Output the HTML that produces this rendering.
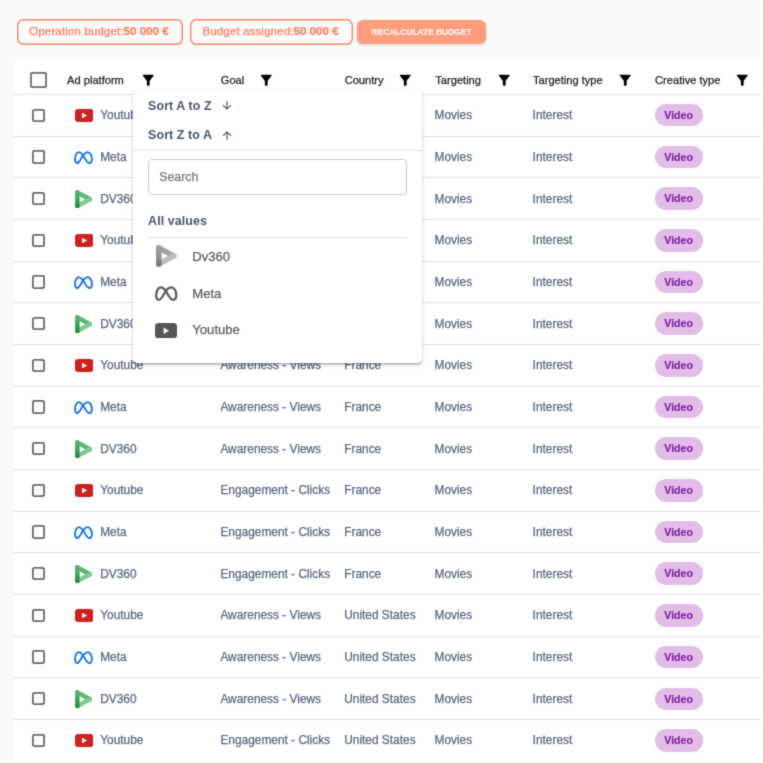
<!DOCTYPE html>
<html><head><meta charset="utf-8"><title>Budget table</title>
<style>
*{box-sizing:border-box;margin:0;padding:0}
html,body{width:763px;height:763px;overflow:hidden}
body{background:#fafafa;font-family:"Liberation Sans",Arial,sans-serif;position:relative}
.pill{position:absolute;top:19px;height:26.4px;box-shadow:inset 0 0 0 1.4px #ff8260;border-radius:6.5px;background:#fbfbfb;color:#ff7f5c;font-size:11.8px;line-height:24.4px;white-space:nowrap}
.pill b{font-weight:bold;font-size:11.6px}
.btn{position:absolute;left:357px;top:20px;width:129px;height:23.5px;border-radius:6px;background:#ff9c7e;color:#fff0ea;font-size:8.4px;font-weight:bold;-webkit-text-stroke:0.2px #fff0ea;line-height:25.4px;text-align:center;box-shadow:0 1px 3px rgba(0,0,0,.18)}
.tbl{position:absolute;left:13px;top:58px;width:747px;height:720px;background:#fff;border-radius:2.5px 2.5px 0 0}
.hd{position:absolute;font-size:11.1px;color:#222;white-space:nowrap}
.fn{position:absolute}
.line{position:absolute;left:13px;width:747px;height:1px;background:#e3e3e3}
.cb{position:absolute;box-shadow:inset 0 0 0 1.8px #6a6a6a;border-radius:2.2px}
.c{position:absolute;font-size:11.9px;color:#5a6883;white-space:nowrap}
.ic{position:absolute}
.chip{position:absolute;width:48px;height:22.5px;border-radius:11.25px;background:#e2bde8;color:#8222a4;font-size:10.6px;font-weight:bold;-webkit-text-stroke:0.15px #8222a4;text-align:center;line-height:22.5px}
.dd{position:absolute;left:132.5px;top:91px;width:289px;height:272px;background:#fff;border-radius:4.5px;box-shadow:0 1.6px 1.4px rgba(0,0,0,.2),0 0 1.5px rgba(0,0,0,.16),0 3px 7px rgba(0,0,0,.07)}
.dd .t{position:absolute;font-size:12.4px;font-weight:bold;color:#47566f;white-space:nowrap;letter-spacing:0.1px}
.dd .ar{position:absolute;color:#48566f}
.dd .sep{position:absolute;height:1px;background:#e0e0e0}
.dd .inp{position:absolute;left:15.8px;top:68.1px;width:259px;height:36.4px;border:1px solid #c9c9c9;border-radius:4px}
.dd .ph{position:absolute;font-size:12.3px;color:#777;white-space:nowrap}
.dd .it{position:absolute;font-size:13.1px;color:#5f5f5f;white-space:nowrap}
.c,.hd,.pill,.dd .it,.dd .ph{-webkit-text-stroke:0.25px currentColor}
#w{position:absolute;left:0;top:0;width:763px;height:763px;filter:url(#bl)}
</style></head><body>
<svg width="0" height="0" style="position:absolute"><filter id="bl" x="0" y="0" width="763" height="763" filterUnits="userSpaceOnUse" color-interpolation-filters="sRGB"><feConvolveMatrix order="3" kernelMatrix="0.03 0.09 0.03 0.09 0.52 0.09 0.03 0.09 0.03" edgeMode="duplicate"/></filter></svg>
<div id="w">
<div class="pill" style="left:17px;width:165.5px;padding-left:12.1px">Operation budget:<b>50 000 €</b></div>
<div class="pill" style="left:190.3px;width:162.5px;padding-left:12px">Budget assigned:<b>50 000 €</b></div>
<div class="btn">RECALCULATE BUDGET</div>
<div class="tbl"></div>
<div class="cb" style="left:30.3px;top:71.7px;width:16.3px;height:16.3px"></div>
<div class="hd" style="left:67.10px;top:73.5px">Ad platform</div>
<svg class="fn" style="left:139.52px;top:71.75px" width="16.5" height="16.5" viewBox="0 0 24 24"><path d="M4.25 5.61C6.27 8.2 10 13 10 13v6c0 .55.45 1 1 1h2c.55 0 1-.45 1-1v-6s3.72-4.8 5.74-7.39c.51-.66.04-1.61-.79-1.61H5.04c-.83 0-1.3.95-.79 1.61z" fill="#000"/></svg>
<div class="hd" style="left:220.80px;top:73.5px">Goal</div>
<svg class="fn" style="left:257.62px;top:71.75px" width="16.5" height="16.5" viewBox="0 0 24 24"><path d="M4.25 5.61C6.27 8.2 10 13 10 13v6c0 .55.45 1 1 1h2c.55 0 1-.45 1-1v-6s3.72-4.8 5.74-7.39c.51-.66.04-1.61-.79-1.61H5.04c-.83 0-1.3.95-.79 1.61z" fill="#000"/></svg>
<div class="hd" style="left:344.70px;top:73.5px">Country</div>
<svg class="fn" style="left:397.22px;top:71.75px" width="16.5" height="16.5" viewBox="0 0 24 24"><path d="M4.25 5.61C6.27 8.2 10 13 10 13v6c0 .55.45 1 1 1h2c.55 0 1-.45 1-1v-6s3.72-4.8 5.74-7.39c.51-.66.04-1.61-.79-1.61H5.04c-.83 0-1.3.95-.79 1.61z" fill="#000"/></svg>
<div class="hd" style="left:435.30px;top:73.5px">Targeting</div>
<svg class="fn" style="left:496.02px;top:71.75px" width="16.5" height="16.5" viewBox="0 0 24 24"><path d="M4.25 5.61C6.27 8.2 10 13 10 13v6c0 .55.45 1 1 1h2c.55 0 1-.45 1-1v-6s3.72-4.8 5.74-7.39c.51-.66.04-1.61-.79-1.61H5.04c-.83 0-1.3.95-.79 1.61z" fill="#000"/></svg>
<div class="hd" style="left:533.00px;top:73.5px">Targeting type</div>
<svg class="fn" style="left:617.12px;top:71.75px" width="16.5" height="16.5" viewBox="0 0 24 24"><path d="M4.25 5.61C6.27 8.2 10 13 10 13v6c0 .55.45 1 1 1h2c.55 0 1-.45 1-1v-6s3.72-4.8 5.74-7.39c.51-.66.04-1.61-.79-1.61H5.04c-.83 0-1.3.95-.79 1.61z" fill="#000"/></svg>
<div class="hd" style="left:655.10px;top:73.5px">Creative type</div>
<svg class="fn" style="left:733.72px;top:71.75px" width="16.5" height="16.5" viewBox="0 0 24 24"><path d="M4.25 5.61C6.27 8.2 10 13 10 13v6c0 .55.45 1 1 1h2c.55 0 1-.45 1-1v-6s3.72-4.8 5.74-7.39c.51-.66.04-1.61-.79-1.61H5.04c-.83 0-1.3.95-.79 1.61z" fill="#000"/></svg>
<div class="line" style="top:93.90px"></div>
<div class="line" style="top:135.58px"></div>
<div class="cb" style="left:31.5px;top:108.64px;width:13.5px;height:13.3px"></div>
<svg class="ic" style="left:74.7px;top:108.74px" width="18.4" height="13" viewBox="0 0 18.4 13"><rect x="0" y="0" width="18.4" height="13" rx="3.2" fill="#d21f1f"/><path d="M7 3.8 L12.2 6.5 L7 9.2 Z" fill="#fff"/></svg>
<div class="c" style="left:100.2px;top:108.14px">Youtube</div>
<div class="c" style="left:220.4px;top:108.14px">Awareness - Views</div>
<div class="c" style="left:344.2px;top:108.14px">France</div>
<div class="c" style="left:434.5px;top:108.14px">Movies</div>
<div class="c" style="left:532.6px;top:108.14px">Interest</div>
<div class="chip" style="left:654.6px;top:103.99px">Video</div>
<div class="line" style="top:177.26px"></div>
<div class="cb" style="left:31.5px;top:150.32px;width:13.5px;height:13.3px"></div>
<svg class="ic" style="left:74.3px;top:150.62px" width="19" height="13" viewBox="0 0 19 13"><path d="M4.9 1.2 C6.6 1.2 7.8 2.5 9.1 4.4 C11.2 7.6 12.8 12 15.2 12 C16.9 12 17.9 10.3 17.9 7.9 C17.9 4.5 16.2 1.2 13.6 1.2 C11.8 1.2 10.4 2.6 9.1 4.4 C6.8 7.7 5.4 12 3.4 12 C2 12 1 10.4 1 8.1 C1 4.6 2.6 1.2 4.9 1.2 Z" fill="none" stroke="#0b6ff2" stroke-width="1.8"/></svg>
<div class="c" style="left:100.2px;top:149.82px">Meta</div>
<div class="c" style="left:220.4px;top:149.82px">Awareness - Views</div>
<div class="c" style="left:344.2px;top:149.82px">France</div>
<div class="c" style="left:434.5px;top:149.82px">Movies</div>
<div class="c" style="left:532.6px;top:149.82px">Interest</div>
<div class="chip" style="left:654.6px;top:145.67px">Video</div>
<div class="line" style="top:218.94px"></div>
<div class="cb" style="left:31.5px;top:192.00px;width:13.5px;height:13.3px"></div>
<svg class="ic" style="left:74.9px;top:189.70px" width="17.4" height="18.4" viewBox="0 0 20 21"><defs><linearGradient id="gG" gradientUnits="userSpaceOnUse" x1="0" y1="0" x2="0" y2="21"><stop offset="0" stop-color="#5bb974"/><stop offset="0.45" stop-color="#43a85e"/><stop offset="1" stop-color="#178a3a"/></linearGradient></defs><path d="M2.7 2.7 L17.3 10.5" stroke="#5bb974" stroke-width="5.3" stroke-linecap="round"/><path d="M17.3 10.5 L2.7 18.3" stroke="#81c995" stroke-width="5.3" stroke-linecap="round"/><path d="M2.7 2.7 L2.7 18.3" stroke="url(#gG)" stroke-width="5.3" stroke-linecap="round"/></svg>
<div class="c" style="left:100.2px;top:191.50px">DV360</div>
<div class="c" style="left:220.4px;top:191.50px">Awareness - Views</div>
<div class="c" style="left:344.2px;top:191.50px">France</div>
<div class="c" style="left:434.5px;top:191.50px">Movies</div>
<div class="c" style="left:532.6px;top:191.50px">Interest</div>
<div class="chip" style="left:654.6px;top:187.35px">Video</div>
<div class="line" style="top:260.62px"></div>
<div class="cb" style="left:31.5px;top:233.68px;width:13.5px;height:13.3px"></div>
<svg class="ic" style="left:74.7px;top:233.78px" width="18.4" height="13" viewBox="0 0 18.4 13"><rect x="0" y="0" width="18.4" height="13" rx="3.2" fill="#d21f1f"/><path d="M7 3.8 L12.2 6.5 L7 9.2 Z" fill="#fff"/></svg>
<div class="c" style="left:100.2px;top:233.18px">Youtube</div>
<div class="c" style="left:220.4px;top:233.18px">Engagement - Clicks</div>
<div class="c" style="left:344.2px;top:233.18px">France</div>
<div class="c" style="left:434.5px;top:233.18px">Movies</div>
<div class="c" style="left:532.6px;top:233.18px">Interest</div>
<div class="chip" style="left:654.6px;top:229.03px">Video</div>
<div class="line" style="top:302.30px"></div>
<div class="cb" style="left:31.5px;top:275.36px;width:13.5px;height:13.3px"></div>
<svg class="ic" style="left:74.3px;top:275.66px" width="19" height="13" viewBox="0 0 19 13"><path d="M4.9 1.2 C6.6 1.2 7.8 2.5 9.1 4.4 C11.2 7.6 12.8 12 15.2 12 C16.9 12 17.9 10.3 17.9 7.9 C17.9 4.5 16.2 1.2 13.6 1.2 C11.8 1.2 10.4 2.6 9.1 4.4 C6.8 7.7 5.4 12 3.4 12 C2 12 1 10.4 1 8.1 C1 4.6 2.6 1.2 4.9 1.2 Z" fill="none" stroke="#0b6ff2" stroke-width="1.8"/></svg>
<div class="c" style="left:100.2px;top:274.86px">Meta</div>
<div class="c" style="left:220.4px;top:274.86px">Engagement - Clicks</div>
<div class="c" style="left:344.2px;top:274.86px">France</div>
<div class="c" style="left:434.5px;top:274.86px">Movies</div>
<div class="c" style="left:532.6px;top:274.86px">Interest</div>
<div class="chip" style="left:654.6px;top:270.71px">Video</div>
<div class="line" style="top:343.98px"></div>
<div class="cb" style="left:31.5px;top:317.04px;width:13.5px;height:13.3px"></div>
<svg class="ic" style="left:74.9px;top:314.74px" width="17.4" height="18.4" viewBox="0 0 20 21"><defs><linearGradient id="gG" gradientUnits="userSpaceOnUse" x1="0" y1="0" x2="0" y2="21"><stop offset="0" stop-color="#5bb974"/><stop offset="0.45" stop-color="#43a85e"/><stop offset="1" stop-color="#178a3a"/></linearGradient></defs><path d="M2.7 2.7 L17.3 10.5" stroke="#5bb974" stroke-width="5.3" stroke-linecap="round"/><path d="M17.3 10.5 L2.7 18.3" stroke="#81c995" stroke-width="5.3" stroke-linecap="round"/><path d="M2.7 2.7 L2.7 18.3" stroke="url(#gG)" stroke-width="5.3" stroke-linecap="round"/></svg>
<div class="c" style="left:100.2px;top:316.54px">DV360</div>
<div class="c" style="left:220.4px;top:316.54px">Engagement - Clicks</div>
<div class="c" style="left:344.2px;top:316.54px">France</div>
<div class="c" style="left:434.5px;top:316.54px">Movies</div>
<div class="c" style="left:532.6px;top:316.54px">Interest</div>
<div class="chip" style="left:654.6px;top:312.39px">Video</div>
<div class="line" style="top:385.66px"></div>
<div class="cb" style="left:31.5px;top:358.72px;width:13.5px;height:13.3px"></div>
<svg class="ic" style="left:74.7px;top:358.82px" width="18.4" height="13" viewBox="0 0 18.4 13"><rect x="0" y="0" width="18.4" height="13" rx="3.2" fill="#d21f1f"/><path d="M7 3.8 L12.2 6.5 L7 9.2 Z" fill="#fff"/></svg>
<div class="c" style="left:100.2px;top:358.22px">Youtube</div>
<div class="c" style="left:220.4px;top:358.22px">Awareness - Views</div>
<div class="c" style="left:344.2px;top:358.22px">France</div>
<div class="c" style="left:434.5px;top:358.22px">Movies</div>
<div class="c" style="left:532.6px;top:358.22px">Interest</div>
<div class="chip" style="left:654.6px;top:354.07px">Video</div>
<div class="line" style="top:427.34px"></div>
<div class="cb" style="left:31.5px;top:400.40px;width:13.5px;height:13.3px"></div>
<svg class="ic" style="left:74.3px;top:400.70px" width="19" height="13" viewBox="0 0 19 13"><path d="M4.9 1.2 C6.6 1.2 7.8 2.5 9.1 4.4 C11.2 7.6 12.8 12 15.2 12 C16.9 12 17.9 10.3 17.9 7.9 C17.9 4.5 16.2 1.2 13.6 1.2 C11.8 1.2 10.4 2.6 9.1 4.4 C6.8 7.7 5.4 12 3.4 12 C2 12 1 10.4 1 8.1 C1 4.6 2.6 1.2 4.9 1.2 Z" fill="none" stroke="#0b6ff2" stroke-width="1.8"/></svg>
<div class="c" style="left:100.2px;top:399.90px">Meta</div>
<div class="c" style="left:220.4px;top:399.90px">Awareness - Views</div>
<div class="c" style="left:344.2px;top:399.90px">France</div>
<div class="c" style="left:434.5px;top:399.90px">Movies</div>
<div class="c" style="left:532.6px;top:399.90px">Interest</div>
<div class="chip" style="left:654.6px;top:395.75px">Video</div>
<div class="line" style="top:469.02px"></div>
<div class="cb" style="left:31.5px;top:442.08px;width:13.5px;height:13.3px"></div>
<svg class="ic" style="left:74.9px;top:439.78px" width="17.4" height="18.4" viewBox="0 0 20 21"><defs><linearGradient id="gG" gradientUnits="userSpaceOnUse" x1="0" y1="0" x2="0" y2="21"><stop offset="0" stop-color="#5bb974"/><stop offset="0.45" stop-color="#43a85e"/><stop offset="1" stop-color="#178a3a"/></linearGradient></defs><path d="M2.7 2.7 L17.3 10.5" stroke="#5bb974" stroke-width="5.3" stroke-linecap="round"/><path d="M17.3 10.5 L2.7 18.3" stroke="#81c995" stroke-width="5.3" stroke-linecap="round"/><path d="M2.7 2.7 L2.7 18.3" stroke="url(#gG)" stroke-width="5.3" stroke-linecap="round"/></svg>
<div class="c" style="left:100.2px;top:441.58px">DV360</div>
<div class="c" style="left:220.4px;top:441.58px">Awareness - Views</div>
<div class="c" style="left:344.2px;top:441.58px">France</div>
<div class="c" style="left:434.5px;top:441.58px">Movies</div>
<div class="c" style="left:532.6px;top:441.58px">Interest</div>
<div class="chip" style="left:654.6px;top:437.43px">Video</div>
<div class="line" style="top:510.70px"></div>
<div class="cb" style="left:31.5px;top:483.76px;width:13.5px;height:13.3px"></div>
<svg class="ic" style="left:74.7px;top:483.86px" width="18.4" height="13" viewBox="0 0 18.4 13"><rect x="0" y="0" width="18.4" height="13" rx="3.2" fill="#d21f1f"/><path d="M7 3.8 L12.2 6.5 L7 9.2 Z" fill="#fff"/></svg>
<div class="c" style="left:100.2px;top:483.26px">Youtube</div>
<div class="c" style="left:220.4px;top:483.26px">Engagement - Clicks</div>
<div class="c" style="left:344.2px;top:483.26px">France</div>
<div class="c" style="left:434.5px;top:483.26px">Movies</div>
<div class="c" style="left:532.6px;top:483.26px">Interest</div>
<div class="chip" style="left:654.6px;top:479.11px">Video</div>
<div class="line" style="top:552.38px"></div>
<div class="cb" style="left:31.5px;top:525.44px;width:13.5px;height:13.3px"></div>
<svg class="ic" style="left:74.3px;top:525.74px" width="19" height="13" viewBox="0 0 19 13"><path d="M4.9 1.2 C6.6 1.2 7.8 2.5 9.1 4.4 C11.2 7.6 12.8 12 15.2 12 C16.9 12 17.9 10.3 17.9 7.9 C17.9 4.5 16.2 1.2 13.6 1.2 C11.8 1.2 10.4 2.6 9.1 4.4 C6.8 7.7 5.4 12 3.4 12 C2 12 1 10.4 1 8.1 C1 4.6 2.6 1.2 4.9 1.2 Z" fill="none" stroke="#0b6ff2" stroke-width="1.8"/></svg>
<div class="c" style="left:100.2px;top:524.94px">Meta</div>
<div class="c" style="left:220.4px;top:524.94px">Engagement - Clicks</div>
<div class="c" style="left:344.2px;top:524.94px">France</div>
<div class="c" style="left:434.5px;top:524.94px">Movies</div>
<div class="c" style="left:532.6px;top:524.94px">Interest</div>
<div class="chip" style="left:654.6px;top:520.79px">Video</div>
<div class="line" style="top:594.06px"></div>
<div class="cb" style="left:31.5px;top:567.12px;width:13.5px;height:13.3px"></div>
<svg class="ic" style="left:74.9px;top:564.82px" width="17.4" height="18.4" viewBox="0 0 20 21"><defs><linearGradient id="gG" gradientUnits="userSpaceOnUse" x1="0" y1="0" x2="0" y2="21"><stop offset="0" stop-color="#5bb974"/><stop offset="0.45" stop-color="#43a85e"/><stop offset="1" stop-color="#178a3a"/></linearGradient></defs><path d="M2.7 2.7 L17.3 10.5" stroke="#5bb974" stroke-width="5.3" stroke-linecap="round"/><path d="M17.3 10.5 L2.7 18.3" stroke="#81c995" stroke-width="5.3" stroke-linecap="round"/><path d="M2.7 2.7 L2.7 18.3" stroke="url(#gG)" stroke-width="5.3" stroke-linecap="round"/></svg>
<div class="c" style="left:100.2px;top:566.62px">DV360</div>
<div class="c" style="left:220.4px;top:566.62px">Engagement - Clicks</div>
<div class="c" style="left:344.2px;top:566.62px">France</div>
<div class="c" style="left:434.5px;top:566.62px">Movies</div>
<div class="c" style="left:532.6px;top:566.62px">Interest</div>
<div class="chip" style="left:654.6px;top:562.47px">Video</div>
<div class="line" style="top:635.74px"></div>
<div class="cb" style="left:31.5px;top:608.80px;width:13.5px;height:13.3px"></div>
<svg class="ic" style="left:74.7px;top:608.90px" width="18.4" height="13" viewBox="0 0 18.4 13"><rect x="0" y="0" width="18.4" height="13" rx="3.2" fill="#d21f1f"/><path d="M7 3.8 L12.2 6.5 L7 9.2 Z" fill="#fff"/></svg>
<div class="c" style="left:100.2px;top:608.30px">Youtube</div>
<div class="c" style="left:220.4px;top:608.30px">Awareness - Views</div>
<div class="c" style="left:344.2px;top:608.30px">United States</div>
<div class="c" style="left:434.5px;top:608.30px">Movies</div>
<div class="c" style="left:532.6px;top:608.30px">Interest</div>
<div class="chip" style="left:654.6px;top:604.15px">Video</div>
<div class="line" style="top:677.42px"></div>
<div class="cb" style="left:31.5px;top:650.48px;width:13.5px;height:13.3px"></div>
<svg class="ic" style="left:74.3px;top:650.78px" width="19" height="13" viewBox="0 0 19 13"><path d="M4.9 1.2 C6.6 1.2 7.8 2.5 9.1 4.4 C11.2 7.6 12.8 12 15.2 12 C16.9 12 17.9 10.3 17.9 7.9 C17.9 4.5 16.2 1.2 13.6 1.2 C11.8 1.2 10.4 2.6 9.1 4.4 C6.8 7.7 5.4 12 3.4 12 C2 12 1 10.4 1 8.1 C1 4.6 2.6 1.2 4.9 1.2 Z" fill="none" stroke="#0b6ff2" stroke-width="1.8"/></svg>
<div class="c" style="left:100.2px;top:649.98px">Meta</div>
<div class="c" style="left:220.4px;top:649.98px">Awareness - Views</div>
<div class="c" style="left:344.2px;top:649.98px">United States</div>
<div class="c" style="left:434.5px;top:649.98px">Movies</div>
<div class="c" style="left:532.6px;top:649.98px">Interest</div>
<div class="chip" style="left:654.6px;top:645.83px">Video</div>
<div class="line" style="top:719.10px"></div>
<div class="cb" style="left:31.5px;top:692.16px;width:13.5px;height:13.3px"></div>
<svg class="ic" style="left:74.9px;top:689.86px" width="17.4" height="18.4" viewBox="0 0 20 21"><defs><linearGradient id="gG" gradientUnits="userSpaceOnUse" x1="0" y1="0" x2="0" y2="21"><stop offset="0" stop-color="#5bb974"/><stop offset="0.45" stop-color="#43a85e"/><stop offset="1" stop-color="#178a3a"/></linearGradient></defs><path d="M2.7 2.7 L17.3 10.5" stroke="#5bb974" stroke-width="5.3" stroke-linecap="round"/><path d="M17.3 10.5 L2.7 18.3" stroke="#81c995" stroke-width="5.3" stroke-linecap="round"/><path d="M2.7 2.7 L2.7 18.3" stroke="url(#gG)" stroke-width="5.3" stroke-linecap="round"/></svg>
<div class="c" style="left:100.2px;top:691.66px">DV360</div>
<div class="c" style="left:220.4px;top:691.66px">Awareness - Views</div>
<div class="c" style="left:344.2px;top:691.66px">United States</div>
<div class="c" style="left:434.5px;top:691.66px">Movies</div>
<div class="c" style="left:532.6px;top:691.66px">Interest</div>
<div class="chip" style="left:654.6px;top:687.51px">Video</div>
<div class="cb" style="left:31.5px;top:733.84px;width:13.5px;height:13.3px"></div>
<svg class="ic" style="left:74.7px;top:733.94px" width="18.4" height="13" viewBox="0 0 18.4 13"><rect x="0" y="0" width="18.4" height="13" rx="3.2" fill="#d21f1f"/><path d="M7 3.8 L12.2 6.5 L7 9.2 Z" fill="#fff"/></svg>
<div class="c" style="left:100.2px;top:733.34px">Youtube</div>
<div class="c" style="left:220.4px;top:733.34px">Engagement - Clicks</div>
<div class="c" style="left:344.2px;top:733.34px">United States</div>
<div class="c" style="left:434.5px;top:733.34px">Movies</div>
<div class="c" style="left:532.6px;top:733.34px">Interest</div>
<div class="chip" style="left:654.6px;top:729.19px">Video</div>
<div class="dd">
<div class="t" style="left:15.6px;top:7.6px">Sort A to Z</div>
<div class="ar" style="left:89.3px;top:5.0px"><svg width="10" height="10" viewBox="0 0 10 10"><path d="M5 1 V9 M1 5.2 L5 9 L9 5.2" stroke="#44536d" stroke-width="1.1" fill="none"/></svg></div>
<div class="t" style="left:15.6px;top:37.1px">Sort Z to A</div>
<div class="ar" style="left:89.3px;top:35.9px"><svg width="10" height="10" viewBox="0 0 10 10"><path d="M5 9 V1 M1 4.8 L5 1 L9 4.8" stroke="#44536d" stroke-width="1.1" fill="none"/></svg></div>
<div class="sep" style="left:0;top:58.6px;width:289px"></div>
<div class="inp"></div>
<div class="ph" style="left:26.8px;top:79px">Search</div>
<div class="t" style="left:15.6px;top:122.5px">All values</div>
<div class="sep" style="left:15.6px;top:146px;width:258.8px"></div>
<svg width="20.6" height="21.8" viewBox="0 0 20 21" style="position:absolute;left:23.7px;top:154px"><defs><linearGradient id="gK" gradientUnits="userSpaceOnUse" x1="0" y1="0" x2="0" y2="21"><stop offset="0" stop-color="#a2a2a2"/><stop offset="0.5" stop-color="#959595"/><stop offset="1" stop-color="#707070"/></linearGradient></defs><path d="M2.7 2.7 L17.3 10.5" stroke="#a4a4a4" stroke-width="5.4" stroke-linecap="round"/><path d="M17.3 10.5 L2.7 18.3" stroke="#bcbcbc" stroke-width="5.4" stroke-linecap="round"/><path d="M2.7 2.7 L2.7 18.3" stroke="url(#gK)" stroke-width="5.4" stroke-linecap="round"/></svg>
<svg width="22.6" height="15" viewBox="0 0 19 13" preserveAspectRatio="none" style="position:absolute;left:22.5px;top:194.6px"><path d="M4.9 1.2 C6.6 1.2 7.8 2.5 9.1 4.4 C11.2 7.6 12.8 12 15.2 12 C16.9 12 17.9 10.3 17.9 7.9 C17.9 4.5 16.2 1.2 13.6 1.2 C11.8 1.2 10.4 2.6 9.1 4.4 C6.8 7.7 5.4 12 3.4 12 C2 12 1 10.4 1 8.1 C1 4.6 2.6 1.2 4.9 1.2 Z" fill="none" stroke="#5e5e5e" stroke-width="1.95"/></svg>
<svg width="22" height="15.5" viewBox="0 0 22 15.5" style="position:absolute;left:22.6px;top:231.7px"><rect width="22" height="15.5" rx="3.5" fill="#555"/><path d="M8.6 4.6 L14 7.75 L8.6 10.9 Z" fill="#fff"/></svg>
<div class="it" style="left:59.8px;top:157.8px">Dv360</div>
<div class="it" style="left:59.8px;top:195px">Meta</div>
<div class="it" style="left:59.8px;top:231.4px">Youtube</div>
</div>
<div style="position:absolute;left:760px;top:0;width:3px;height:763px;background:#fff"></div><div style="position:absolute;left:0;top:760px;width:763px;height:3px;background:#fff"></div>
</div></body></html>
